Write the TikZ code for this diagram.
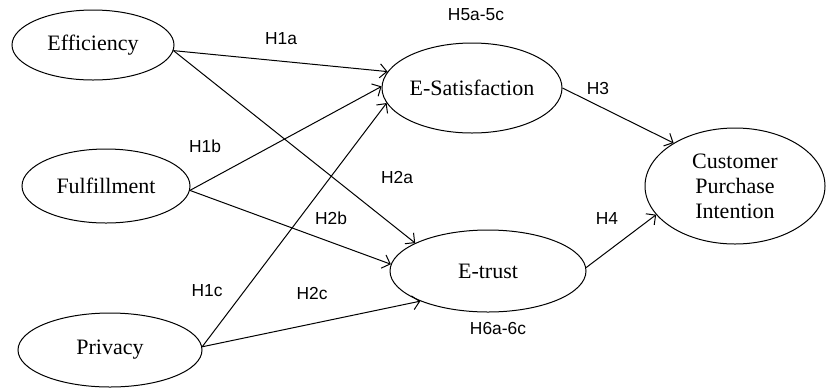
\documentclass[tikz,border=0pt]{standalone}
\usepackage{fontspec}
\setmainfont{Liberation Serif}
\setsansfont{Liberation Sans}
\usetikzlibrary{shapes.geometric,arrows.meta}
\begin{document}
\begin{tikzpicture}[x=0.5pt,y=-0.5pt,
 construct/.style={draw,ellipse,inner sep=0pt,line width=0.5pt,font=\fontsize{11}{12.5}\selectfont,align=center},
 hyp/.style={font=\sffamily\fontsize{8.7}{10}\selectfont,inner sep=0pt},
 path/.style={line width=0.5pt,-{Straight Barb[length=3.5pt,width=7pt]}}]
 \useasboundingbox (0,0) rectangle (829,387);
 % constructs
 \node[construct,minimum width=81pt,minimum height=35pt] (eff) at (93,45) {Efficiency};
 \node[construct,minimum width=84pt,minimum height=37pt] (ful) at (106,186) {Fulfillment};
 \node[construct,minimum width=92pt,minimum height=37pt] (priv) at (110,350) {Privacy};
 \node[construct,minimum width=90pt,minimum height=45pt] (esat) at (472,88) {E-Satisfaction};
 \node[construct,minimum width=98pt,minimum height=41pt] (etrust) at (488,271) {E-trust};
 \node[construct,minimum width=90pt,minimum height=58pt] (cpi) at (735,186) {Customer\\Purchase\\Intention};
 % paths
 \draw[path] (eff.-4) -- (esat.169);
 \draw[path] (eff.-4) -- (etrust.159);
 \draw[path] (ful.-3) -- (esat.179);
 \draw[path] (ful.-3) -- (etrust.176);
 \draw[path] (priv.2) -- (esat.190);
 \draw[path] (priv.2) -- (etrust.204);
 \draw[path] (esat.east) -- (cpi.145);
 \draw[path] (etrust.2) -- (cpi.200);
 % hypotheses
 \node[hyp] (h1a) at (281,39) {H1a};
 \node[hyp] (h1b) at (205,146) {H1b};
 \node[hyp] (h1c) at (207,291) {H1c};
 \node[hyp] (h2a) at (397,178) {H2a};
 \node[hyp] (h2b) at (331,218) {H2b};
 \node[hyp] (h2c) at (312,294) {H2c};
 \node[hyp] (h3) at (598,89) {H3};
 \node[hyp] (h4) at (607,219) {H4};
 \node[hyp] (h5) at (476,15) {H5a-5c};
 \node[hyp] (h6) at (498,328) {H6a-6c};
\end{tikzpicture}
\end{document}
